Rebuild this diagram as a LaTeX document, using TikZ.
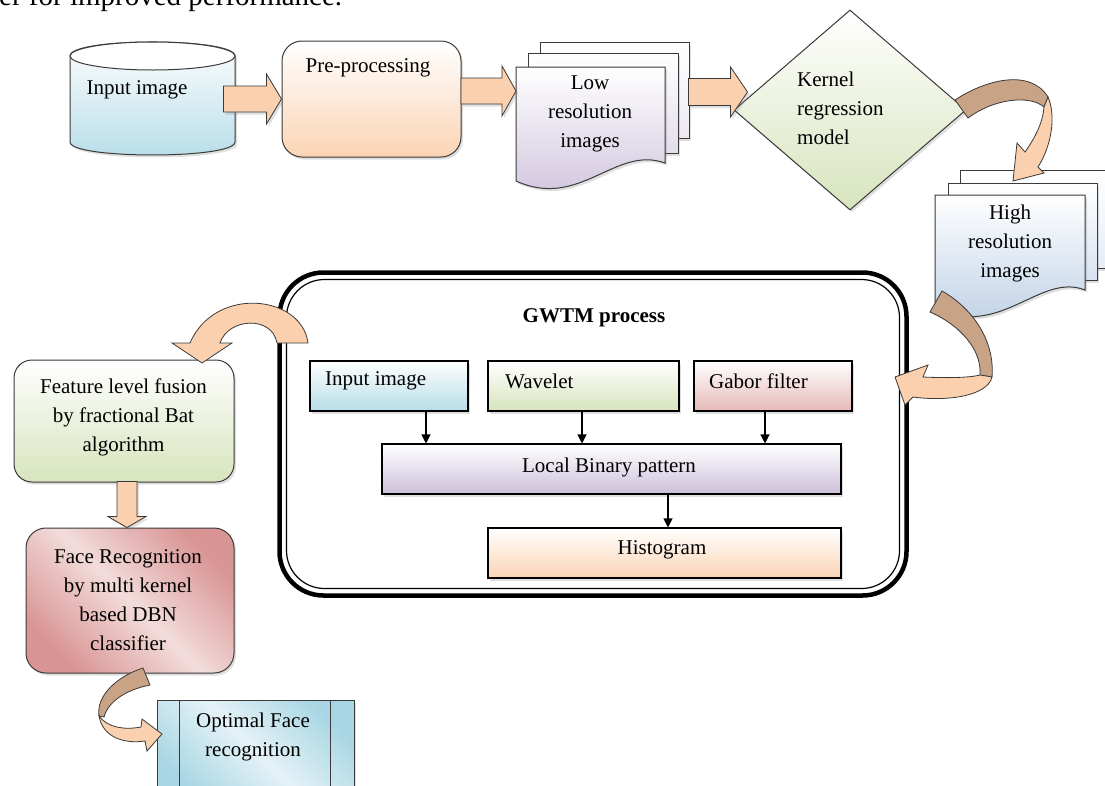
\documentclass[tikz,border=0pt]{standalone}
\usepackage{fontspec}
\setmainfont{Liberation Serif}
\usetikzlibrary{shapes.geometric,shadows,calc,arrows.meta}
\definecolor{peach}{HTML}{FAD0AE}
\definecolor{brownar}{HTML}{C9A386}
\definecolor{bluef}{HTML}{B7DDE8}
\definecolor{orangef}{HTML}{FBD4B4}
\definecolor{purplef}{HTML}{CCC0DA}
\definecolor{greenf}{HTML}{D7E4BD}
\definecolor{redf}{HTML}{E6B9B8}
\definecolor{steelf}{HTML}{B8CCE4}
\definecolor{redd}{HTML}{D99594}
\definecolor{redl}{HTML}{F2DCDB}
\definecolor{blued}{HTML}{A9D6E4}
\definecolor{bluel}{HTML}{E4F2F7}
\definecolor{edge}{HTML}{3A3A3A}
\begin{document}
\begin{tikzpicture}[x=1pt,y=-1pt,
  font=\fontsize{21pt}{29pt}\selectfont,
  txt/.style={inner sep=0pt, align=center},
  shp/.style={draw=edge, line width=1pt},
  soft/.style={drop shadow={opacity=0.25, shadow xshift=2pt, shadow yshift=-2.5pt}},
  blk/.style={draw=edge, line width=0.8pt, fill=peach},
  brw/.style={draw=edge, line width=0.8pt, fill=brownar},
  inbox/.style={draw=black, line width=1.1pt, inner sep=0pt, soft},
  conn/.style={line width=1.1pt, -{Triangle[length=9pt,width=9pt]}},
  frame/.style={inner sep=0pt, outer sep=0pt}
]
\useasboundingbox (0,0) rectangle (1105,785);
\clip (0,0) rectangle (1105,785);
\fill[white] (0,0) rectangle (1105,785);

% top caption fragment
\node[anchor=base west, inner sep=0pt, font=\fontsize{29pt}{35pt}\selectfont] (toptext) at (-1,5) {er for improved performance.};

% ---------- Input image cylinder
\draw[shp, top color=white, bottom color=bluef, soft] (70,56) -- (70,142) .. controls (70,159.3) and (235,159.3) .. (235,142) -- (235,56) .. controls (235,37.3) and (70,37.3) .. (70,56) -- cycle;
\draw[shp, fill=white] (152.5,56) ellipse [x radius=82.5pt, y radius=14pt];
\node[frame, minimum width=165pt, minimum height=113pt] (cyl) at (152.5,98.5) {};
\node[txt] (cyltxt) at (137,90) {Input image};

% ---------- Pre-processing
\node[shp, rounded corners=20pt, top color=white, bottom color=orangef, minimum width=179pt, minimum height=116pt, inner sep=0pt, soft] (pre) at (371.5,99) {};
\node[txt] (pretxt) at (368,68) {Pre-processing};

% ---------- Low resolution images (stack)
\draw[shp, top color=white, bottom color=purplef!35, soft] (540,42) rectangle (689,138);
\draw[shp, top color=white, bottom color=purplef!55, soft] (528,53) rectangle (678,153);
\draw[shp, top color=white, bottom color=purplef, soft] (516,67) -- (665,67) -- (665,163) .. controls (615,145) and (580,210) .. (516,181) -- cycle;
\node[frame, minimum width=149pt, minimum height=114pt] (lowres) at (590.5,124) {};
\node[txt] (lowtxt) at (590,114) {Low\\resolution\\images};

% ---------- Kernel regression model (diamond)
\node[diamond, shp, minimum width=232pt, minimum height=200pt, inner sep=0pt, top color=white, bottom color=greenf, soft] (kernel) at (850,110) {};
\node[txt, align=left, anchor=west] (kerneltxt) at (797,108) {Kernel\\regression\\model};

% ---------- High resolution images (stack)
\draw[shp, top color=white, bottom color=steelf!35, soft] (960,170) rectangle (1112,268);
\draw[shp, top color=white, bottom color=steelf!55, soft] (948,183) rectangle (1097,280);
\draw[shp, top color=white, bottom color=steelf, soft] (935,195) -- (1085,195) -- (1085,290) .. controls (1040,272) and (1000,340) .. (935,308) -- cycle;
\node[frame, minimum width=150pt, minimum height=121pt] (hires) at (1010,255.5) {};
\node[txt] (hightxt) at (1010,243) {High\\resolution\\images};

% ---------- GWTM process box
\node[draw=black, line width=4.5pt, rounded corners=44pt, fill=white, minimum width=627pt, minimum height=323pt, inner sep=0pt] (gwtm) at (593,434) {};
\node[draw=black, line width=1.2pt, rounded corners=38pt, minimum width=613pt, minimum height=309pt, inner sep=0pt] (gwtmin) at (gwtm.center) {};
\node[txt, font=\fontsize{21pt}{29pt}\selectfont\bfseries] (gwtmtxt) at (594,318) {GWTM process};

\node[inbox, top color=white, bottom color=bluef, minimum width=158pt, minimum height=50pt] (inimg) at (389,386) {};
\node[txt, anchor=west] (inimgtxt) at (325,381) {Input image};
\node[inbox, top color=white, bottom color=greenf, minimum width=191pt, minimum height=50pt] (wave) at (583.5,386) {};
\node[txt, anchor=west] (wavetxt) at (505,381) {Wavelet};
\node[inbox, top color=white, bottom color=redf, minimum width=158pt, minimum height=50pt] (gabor) at (773,386) {};
\node[txt, anchor=west] (gabortxt) at (709,381) {Gabor filter};
\node[inbox, top color=white, bottom color=purplef, minimum width=459pt, minimum height=50pt] (lbp) at (611.5,469) {};
\node[txt] (lbptxt) at (609,467) {Local Binary pattern};
\node[inbox, top color=white, bottom color=orangef, minimum width=353pt, minimum height=50pt] (hist) at (664.5,553) {};
\node[txt] (histtxt) at (662,550) {Histogram};

\draw[conn] ([xshift=37pt]inimg.south) -- ([xshift=37pt]inimg.south |- lbp.north);
\draw[conn] ([xshift=-1.5pt]wave.south) -- ([xshift=-1.5pt]wave.south |- lbp.north);
\draw[conn] ([xshift=-8pt]gabor.south) -- ([xshift=-8pt]gabor.south |- lbp.north);
\draw[conn] ([xshift=3.5pt]hist.north |- lbp.south) -- ([xshift=3.5pt]hist.north);

% ---------- Feature level fusion
\node[shp, rounded corners=18pt, top color=white, bottom color=greenf, minimum width=220pt, minimum height=122pt, inner sep=0pt, soft] (fusion) at (124,421) {};
\node[txt] (fusiontxt) at (123.5,417) {Feature level fusion\\by fractional Bat\\algorithm};

% ---------- Face Recognition
\node[shp, rounded corners=20pt, left color=redd, right color=redd, middle color=redl, shading angle=-45, minimum width=208pt, minimum height=145pt, inner sep=0pt, soft] (face) at (130,600.5) {};
\node[txt] (facetxt) at (128,600) {Face Recognition\\by multi kernel\\based DBN\\classifier};

% ---------- Optimal Face recognition
\node[shp, left color=blued, right color=blued, middle color=bluel, shading angle=-45, minimum width=197pt, minimum height=100pt, inner sep=0pt, soft] (opt) at (255.5,750) {};
\draw[shp] ([xshift=23pt]opt.north west) -- ([xshift=23pt]opt.south west);
\draw[shp] ([xshift=-24pt]opt.north east) -- ([xshift=-24pt]opt.south east);
\node[txt] (opttxt) at (253,736.5) {Optimal Face\\recognition};

% ---------- straight block arrows
\filldraw[blk, soft] (pre.west) -- ++(-15,-25) -- ++(0,12) -- ++(-43,0) -- ++(0,26) -- ++(43,0) -- ++(0,12) -- cycle;
\filldraw[blk, soft] ([yshift=33pt]lowres.west) -- ++(-14,-25) -- ++(0,12) -- ++(-41,0) -- ++(0,26) -- ++(41,0) -- ++(0,12) -- cycle;
\filldraw[blk, soft] ([shift={(14,-18)}]kernel.west) -- ++(-17,-25) -- ++(0,11.5) -- ++(-42,0) -- ++(0,27) -- ++(42,0) -- ++(0,11.5) -- cycle;
\filldraw[blk, soft] ([xshift=-3pt]face.north) -- ++(-19,-11) -- ++(9,0) -- ++(0,-35) -- ++(20,0) -- ++(0,35) -- ++(9,0) -- cycle;

% ---------- curved block arrows
% kernel -> high resolution
\filldraw[brw] (955,100) .. controls (985,80) and (1030,68) .. (1048,97) -- (1044,107) .. controls (1030,95) and (995,98) .. (968,118) -- cycle;
\filldraw[blk] (1048,97) .. controls (1056,115) and (1052,145) .. (1038,167) -- (1044,173) -- (1013,181) -- (1017,143) -- (1025,152) .. controls (1035,138) and (1043,122) .. (1044,107) -- cycle;
% high resolution -> GWTM
\filldraw[brw] (942,291) .. controls (972,308) and (995,340) .. (992,377) -- (980,375) .. controls (982,350) and (960,325) .. (930,312) -- cycle;
\filldraw[blk] (992,377) .. controls (988,395) and (950,402) .. (913,397) -- (905,405) -- (895,377) -- (928,365) -- (923,377) .. controls (945,378) and (968,378) .. (980,375) -- cycle;
% GWTM -> fusion
\filldraw[blk] (308,343) .. controls (302,295) and (215,285) .. (190,343) -- (172,343) -- (202,363) -- (232,343) -- (220,343) .. controls (228,318) and (272,315) .. (277,343) -- cycle;
% face -> optimal
\filldraw[brw] (143,668) .. controls (118,676) and (96,695) .. (99,716) -- (104,717) .. controls (108,702) and (125,690) .. (150,685) -- cycle;
\filldraw[blk] (99,716) .. controls (108,728) and (125,730) .. (141,727) -- (142,719) -- (162,734) -- (147,751) -- (145,741) .. controls (125,744) and (103,738) .. (99,716) -- cycle;
\end{tikzpicture}
\end{document}
